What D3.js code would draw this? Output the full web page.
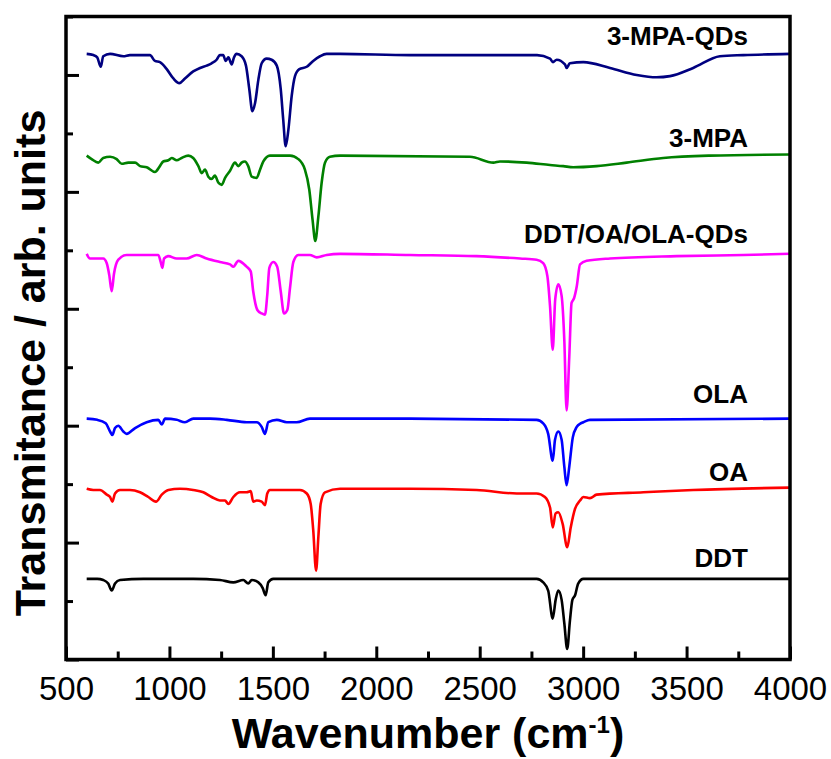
<!DOCTYPE html>
<html>
<head>
<meta charset="utf-8">
<script src="https://cdn.jsdelivr.net/npm/d3@7"></script>
<style>
  body { margin: 0; background: #fff; }
  text { font-family: "Liberation Sans", Arial, sans-serif; }
</style>
</head>
<body>
<div id="chart"></div>
<script>
// wavenumber (cm-1), transmittance (arb. units, offset per trace)
const mpaQDs = [[600,5.18],[632,5.17],[651,5.15],[668,5.07],[680,5.16],[713,5.18],[777,5.16],[809,5.17],[906,5.17],[930,5.12],[954,5.11],[987,5.05],[1019,4.97],[1048,4.93],[1075,4.97],[1115,5.03],[1148,5.06],[1180,5.08],[1204,5.10],[1228,5.13],[1244,5.17],[1260,5.17],[1272,5.12],[1285,5.15],[1301,5.09],[1312,5.15],[1325,5.18],[1349,5.16],[1370,5.08],[1386,4.88],[1401,4.69],[1414,4.76],[1430,4.96],[1446,5.10],[1470,5.14],[1494,5.13],[1519,5.08],[1538,4.88],[1550,4.62],[1562,4.39],[1575,4.53],[1591,4.82],[1607,4.99],[1628,5.05],[1664,5.07],[1695,5.12],[1728,5.16],[1760,5.18],[1825,5.18],[2163,5.17],[2777,5.17],[2840,5.14],[2854,5.11],[2872,5.13],[2912,5.09],[2920,5.06],[2936,5.10],[3001,5.11],[3130,5.06],[3259,5.00],[3355,4.98],[3420,4.99],[3532,5.06],[3661,5.16],[3774,5.17],[4000,5.18]];

const mpa = [[600,4.31],[624,4.28],[656,4.25],[680,4.29],[713,4.30],[745,4.28],[769,4.24],[801,4.25],[834,4.25],[858,4.22],[890,4.21],[930,4.17],[954,4.22],[970,4.26],[995,4.27],[1011,4.29],[1035,4.27],[1059,4.29],[1091,4.31],[1115,4.29],[1140,4.22],[1156,4.16],[1172,4.19],[1188,4.13],[1204,4.11],[1220,4.14],[1236,4.08],[1253,4.06],[1269,4.12],[1293,4.18],[1317,4.25],[1333,4.22],[1349,4.25],[1365,4.26],[1381,4.22],[1398,4.13],[1422,4.12],[1438,4.19],[1454,4.26],[1486,4.31],[1583,4.31],[1623,4.28],[1655,4.19],[1676,4.02],[1692,3.76],[1705,3.58],[1720,3.79],[1736,4.08],[1752,4.25],[1776,4.30],[1825,4.31],[2453,4.30],[2566,4.25],[2598,4.26],[2727,4.25],[2840,4.23],[2904,4.22],[2952,4.21],[3065,4.22],[3210,4.25],[3387,4.29],[3613,4.31],[4000,4.32]];

const mixQDs = [[600,3.47],[616,3.43],[648,3.43],[680,3.43],[697,3.39],[709,3.29],[721,3.15],[732,3.30],[753,3.42],[793,3.46],[858,3.46],[946,3.46],[958,3.40],[966,3.35],[974,3.43],[995,3.45],[1035,3.43],[1083,3.43],[1132,3.46],[1180,3.43],[1244,3.40],[1293,3.38],[1309,3.36],[1333,3.41],[1373,3.36],[1393,3.32],[1405,3.15],[1425,2.99],[1446,2.96],[1462,2.95],[1473,3.12],[1483,3.35],[1502,3.40],[1521,3.36],[1538,3.15],[1554,2.96],[1570,2.99],[1583,3.18],[1599,3.40],[1623,3.46],[1679,3.46],[1712,3.44],[1760,3.46],[1825,3.47],[2163,3.46],[2485,3.45],[2695,3.43],[2775,3.42],[2807,3.39],[2827,3.28],[2840,3.02],[2853,2.65],[2865,3.08],[2880,3.21],[2896,3.11],[2909,2.73],[2920,2.13],[2933,2.59],[2944,3.05],[2956,3.09],[2969,3.19],[2985,3.38],[3017,3.41],[3130,3.43],[3452,3.45],[3774,3.46],[4000,3.47]];

const ola = [[600,2.06],[651,2.05],[692,2.02],[713,1.95],[724,1.92],[737,1.98],[753,2.00],[777,1.95],[793,1.93],[834,1.98],[890,2.03],[946,2.05],[963,2.01],[979,2.06],[1035,2.05],[1075,2.03],[1115,2.06],[1196,2.06],[1277,2.05],[1373,2.03],[1422,2.03],[1446,1.99],[1462,1.93],[1478,2.03],[1519,2.05],[1567,2.03],[1615,2.03],[1679,2.06],[1825,2.06],[2163,2.06],[2775,2.05],[2807,2.02],[2831,1.93],[2853,1.70],[2864,1.88],[2880,1.95],[2896,1.88],[2909,1.65],[2920,1.49],[2933,1.65],[2950,1.90],[2969,1.99],[2988,2.02],[3001,2.03],[3033,2.05],[4000,2.06]];

const oa = [[600,1.46],[632,1.45],[664,1.45],[697,1.41],[713,1.39],[724,1.35],[737,1.42],[761,1.45],[809,1.45],[858,1.43],[898,1.39],[935,1.35],[963,1.41],[995,1.45],[1051,1.46],[1115,1.45],[1164,1.43],[1204,1.39],[1244,1.36],[1269,1.36],[1285,1.33],[1309,1.39],[1341,1.43],[1373,1.43],[1393,1.44],[1405,1.35],[1422,1.36],[1446,1.35],[1462,1.32],[1473,1.42],[1486,1.45],[1567,1.45],[1631,1.45],[1664,1.42],[1683,1.33],[1695,1.11],[1709,0.76],[1720,1.05],[1731,1.33],[1752,1.43],[1825,1.46],[2163,1.46],[2485,1.45],[2679,1.42],[2775,1.42],[2815,1.39],[2840,1.30],[2853,1.13],[2867,1.25],[2880,1.26],[2901,1.16],[2923,0.96],[2940,1.13],[2961,1.29],[2985,1.36],[3001,1.39],[3033,1.38],[3065,1.41],[3291,1.43],[3532,1.45],[4000,1.47]];

const ddt = [[600,0.69],[651,0.69],[680,0.68],[704,0.65],[721,0.59],[737,0.65],[761,0.68],[874,0.69],[1115,0.69],[1244,0.68],[1309,0.66],[1357,0.68],[1381,0.65],[1398,0.68],[1430,0.66],[1451,0.61],[1465,0.55],[1478,0.66],[1502,0.69],[1825,0.69],[2163,0.69],[2775,0.69],[2807,0.66],[2831,0.59],[2853,0.35],[2867,0.51],[2880,0.59],[2896,0.51],[2909,0.31],[2923,0.09],[2936,0.33],[2948,0.51],[2961,0.55],[2976,0.65],[3001,0.69],[4000,0.69]];

const seriesNames = ["3-MPA-QDs", "3-MPA", "DDT/OA/OLA-QDs", "OLA", "OA", "DDT"];
const seriesData = [mpaQDs, mpa, mixQDs, ola, oa, ddt];
const seriesColors = ["#000080", "#008000", "#ff00ff", "#0000ff", "#ff0000", "#000000"];
const labelY = [5.26, 4.38, 3.56, 2.19, 1.53, 0.79];
const labelX = 3797;

const xMajor = [500, 1000, 1500, 2000, 2500, 3000, 3500, 4000];
const xMinor = [750, 1250, 1750, 2250, 2750, 3250, 3750];
const yMajor = [0, 1, 2, 3, 4, 5];
const yMinor = [0.5, 1.5, 2.5, 3.5, 4.5, 5.5];

const margin = { top: 16.5, right: 41, bottom: 99.5, left: 66 },
  width = 831 - margin.left - margin.right,
  height = 759 - margin.top - margin.bottom;

const svg = d3.select("#chart")
  .append("svg")
  .attr("width", 831)
  .attr("height", 759)
  .append("g")
  .attr("transform", `translate(${margin.left},${margin.top})`);

const x = d3.scaleLinear().domain([500, 4000]).range([0, width]);
const y = d3.scaleLinear().domain([0, 5.5]).range([height, 0]);

// spectra
const line = d3.line()
  .x(d => x(d[0]))
  .y(d => y(d[1]))
  .curve(d3.curveMonotoneX);

svg.append("g")
  .selectAll("path")
  .data(seriesData)
  .join("path")
  .attr("fill", "none")
  .attr("stroke", (d, i) => seriesColors[i])
  .attr("stroke-width", 2.6)
  .attr("stroke-linejoin", "round")
  .attr("d", line);

// trace labels
svg.append("g")
  .selectAll("text")
  .data(seriesNames)
  .join("text")
  .attr("x", x(labelX))
  .attr("y", (d, i) => y(labelY[i]))
  .attr("text-anchor", "end")
  .style("font-size", "26px")
  .style("font-weight", "bold")
  .style("fill", "#000")
  .text(d => d);

// x axis, ticks pointing inward
const xAxis = svg.append("g")
  .attr("transform", `translate(0,${height})`)
  .call(d3.axisBottom(x).tickValues(xMajor).tickSize(-13).tickPadding(17).tickFormat(d3.format("d")));
xAxis.selectAll("text").style("font-size", "33px").style("fill", "#000");

svg.append("g")
  .attr("transform", `translate(0,${height})`)
  .call(d3.axisBottom(x).tickValues(xMinor).tickSize(-8).tickFormat(""));

svg.append("g")
  .call(d3.axisLeft(y).tickValues(yMajor).tickSize(-13).tickFormat(""));
svg.append("g")
  .call(d3.axisLeft(y).tickValues(yMinor).tickSize(-7).tickFormat(""));

svg.selectAll(".domain").remove();
svg.selectAll(".tick line").attr("stroke", "#000").attr("stroke-width", 3);

// frame
svg.append("rect")
  .attr("width", width)
  .attr("height", height)
  .attr("fill", "none")
  .attr("stroke", "#000")
  .attr("stroke-width", 3.5);

// axis titles
const xTitle = svg.append("text")
  .attr("x", width / 2)
  .attr("y", height + 88)
  .attr("text-anchor", "middle")
  .style("font-size", "43px")
  .style("font-weight", "bold");
xTitle.append("tspan").text("Wavenumber (cm");
xTitle.append("tspan").attr("dy", -15).style("font-size", "24px").text("-1");
xTitle.append("tspan").attr("dy", 15).text(")");

svg.append("text")
  .attr("transform", `translate(${45 - margin.left},${363 - margin.top}) rotate(-90)`)
  .attr("text-anchor", "middle")
  .style("font-size", "43px")
  .style("font-weight", "bold")
  .text("Transmitance / arb. units");
</script>
</body>
</html>
